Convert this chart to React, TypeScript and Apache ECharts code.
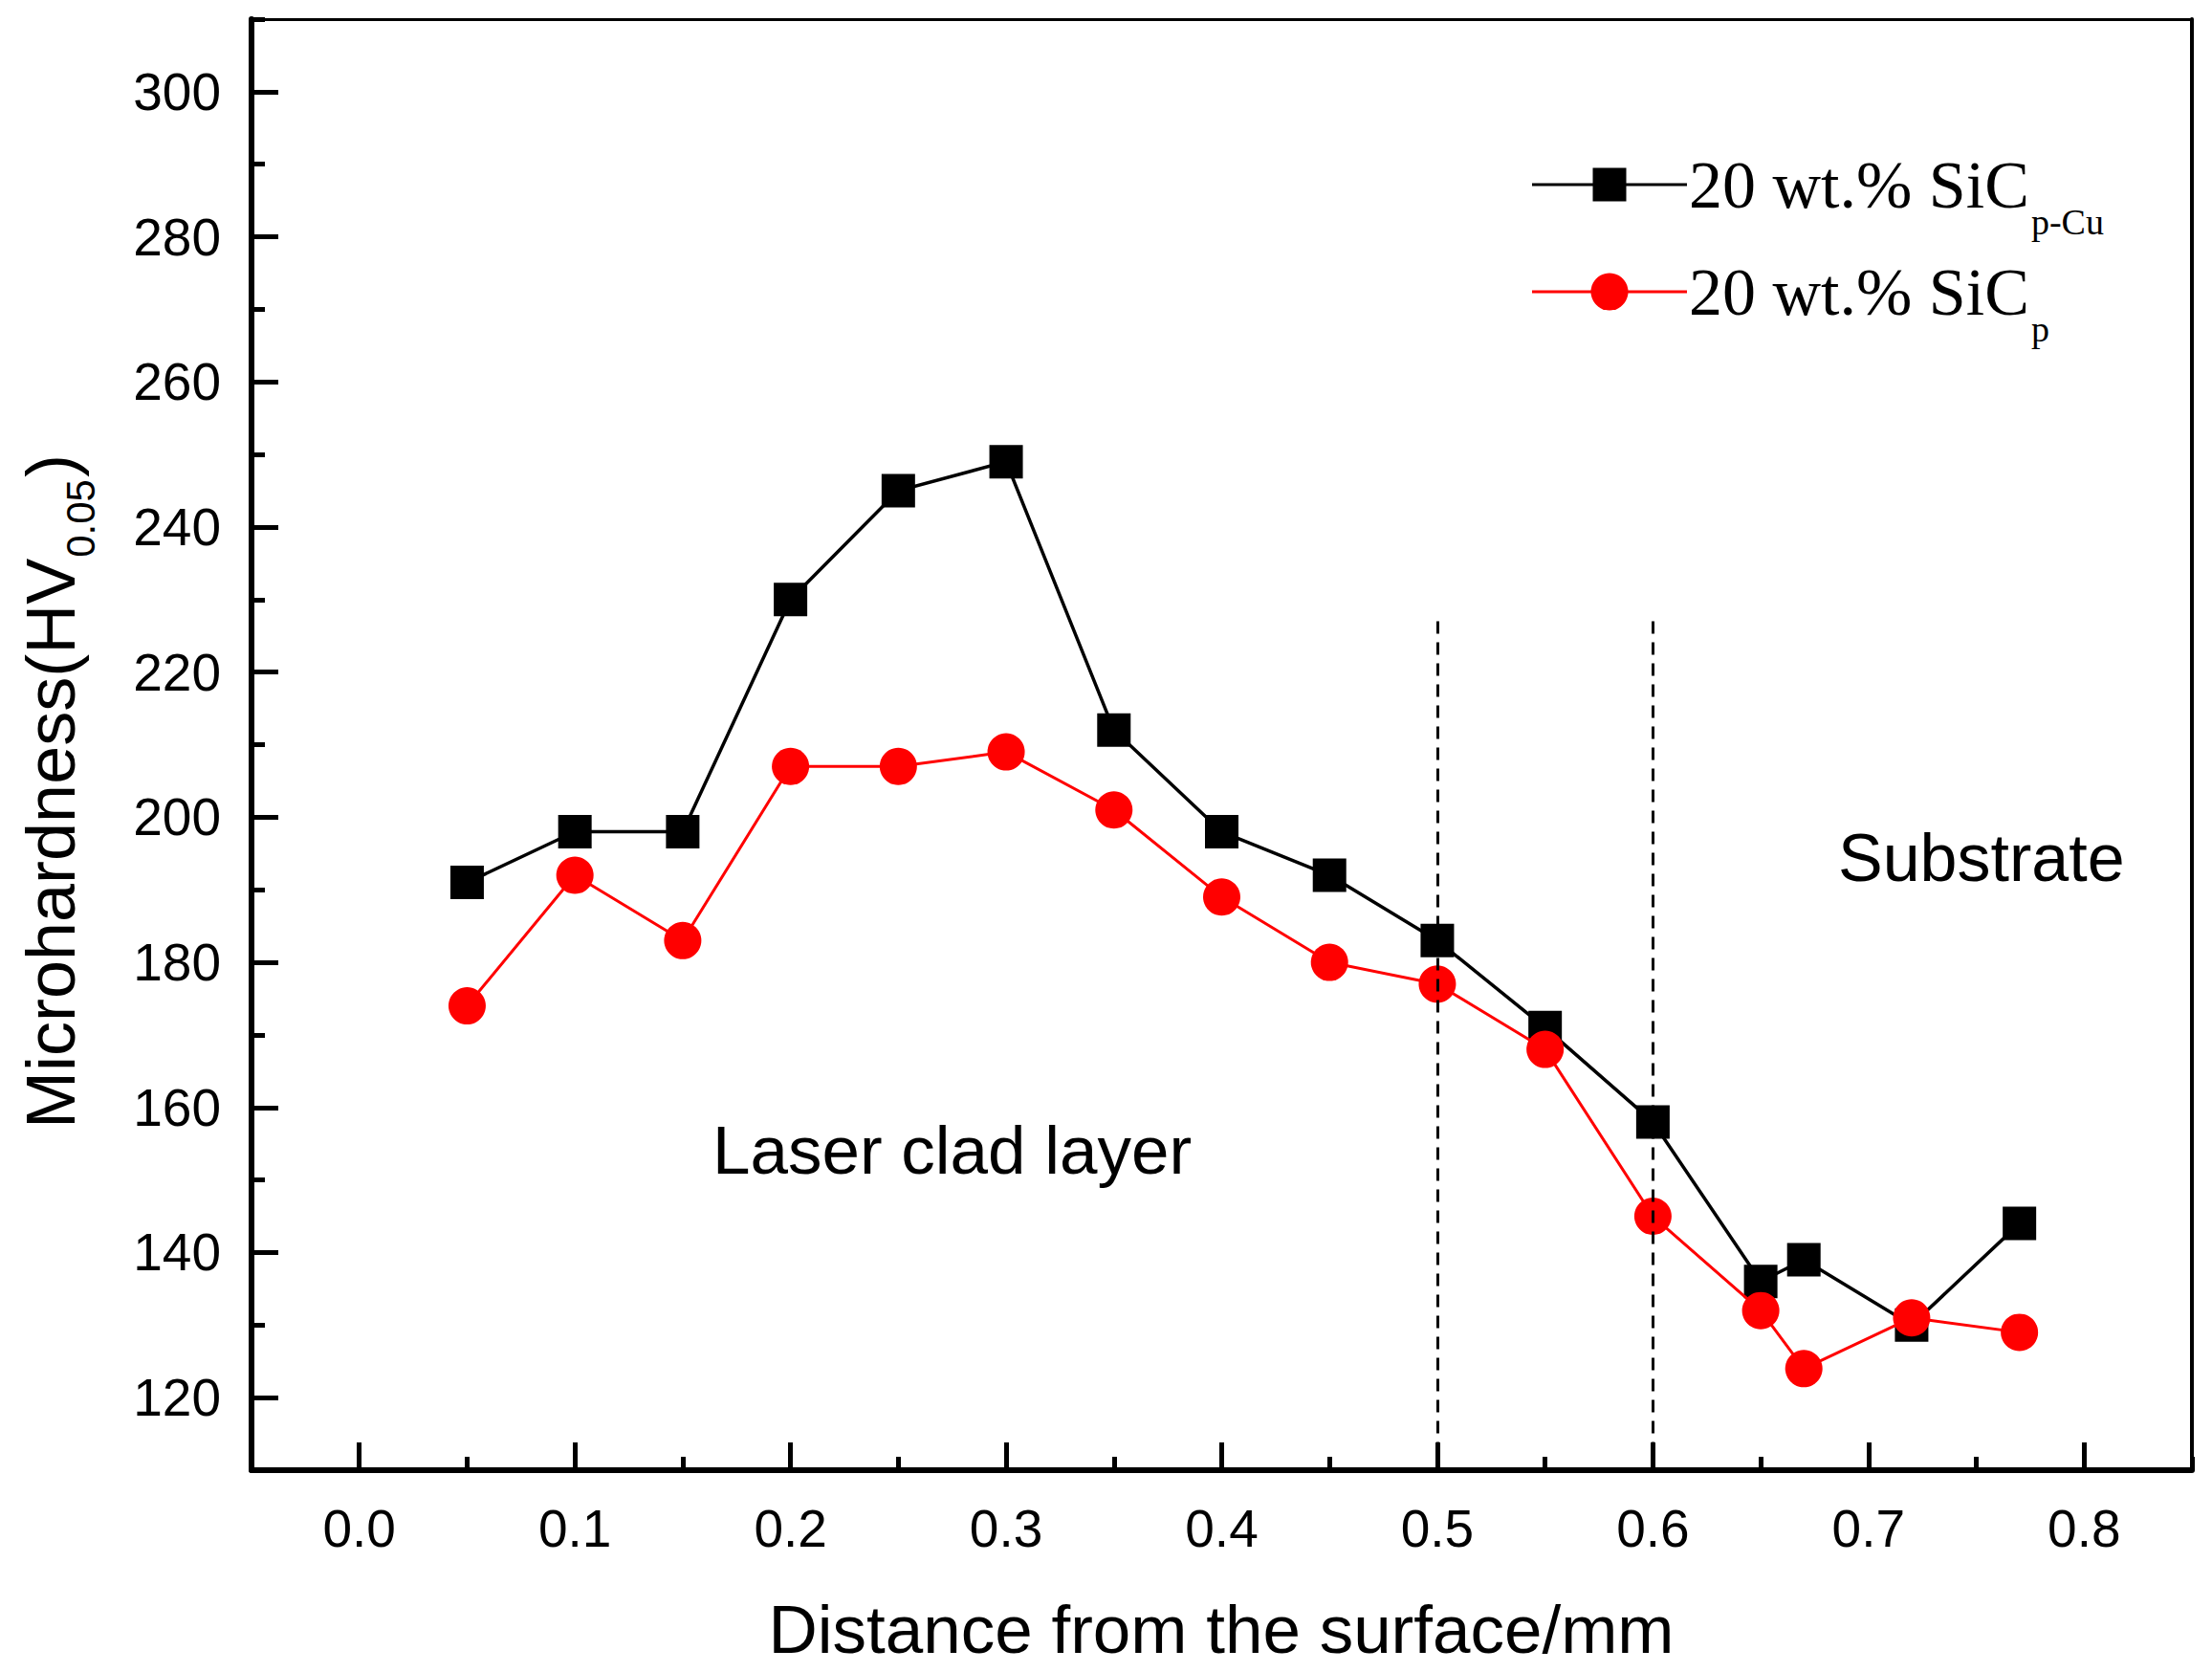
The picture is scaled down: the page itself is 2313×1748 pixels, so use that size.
import React, { useEffect, useRef } from "react";
import * as echarts from "echarts";

// ---- data ----
const distances = [0.05, 0.1, 0.15, 0.2, 0.25, 0.3, 0.35, 0.4, 0.45, 0.5, 0.55, 0.6, 0.65, 0.67, 0.72, 0.77];
const sicCuValues = [191, 198, 198, 230, 245, 249, 212, 198, 192, 183, 171, 158, 136, 139, 130, 144];
const sicValues = [174, 192, 183, 207, 207, 209, 201, 189, 180, 177, 168, 145, 132, 124, 131, 129];
const xMajorTicks = [0, 0.1, 0.2, 0.3, 0.4, 0.5, 0.6, 0.7, 0.8];
const xMinorTicks = [0.05, 0.15, 0.25, 0.35, 0.45, 0.55, 0.65, 0.75, 0.85];
const yMajorTicks = [120, 140, 160, 180, 200, 220, 240, 260, 280, 300];
const yMinorTicks = [110, 130, 150, 170, 190, 210, 230, 250, 270, 290, 310];
const boundaries = [0.5, 0.6];
const boundaryTop = 227;
const xRange = [-0.05, 0.85];
const yRange = [110, 310];
const seriesNames = ["20 wt.% SiC", "20 wt.% SiC"];
const seriesSubs = ["p-Cu", "p"];
const regionLabels = ["Laser clad layer", "Substrate"];

const SANS = "'Liberation Sans', Arial, sans-serif";
const SERIF = "'Liberation Serif', 'Times New Roman', serif";

function measure(text: string, font: string): number {
  const ctx = document.createElement("canvas").getContext("2d");
  if (!ctx) return text.length * 30;
  ctx.font = font;
  return ctx.measureText(text).width;
}

export default function App() {
  const ref = useRef<HTMLDivElement>(null);
  useEffect(() => {
    if (!ref.current) return;
    const chart = echarts.init(ref.current, undefined, { renderer: "svg" });

    const blackData = distances.map((d, i) => [d, sicCuValues[i]]);
    const redData = distances.map((d, i) => [d, sicValues[i]]);

    const axisBase = {
      type: "value" as const,
      min: xRange[0],
      max: xRange[1],
      splitLine: { show: false },
    };
    const yBase = {
      type: "value" as const,
      min: yRange[0],
      max: yRange[1],
      splitLine: { show: false },
    };

    // legend & text graphics
    const legFont = 70;
    const subFont = 38;
    const legX = 1766;
    const rowY = [193, 305];
    const baselines = [217, 329];
    const graphics: any[] = [];
    rowY.forEach((y, i) => {
      const color = i === 0 ? "#000" : "#ff0000";
      graphics.push({
        type: "line",
        shape: { x1: 1602, y1: y, x2: 1764, y2: y },
        style: { stroke: color, lineWidth: 3 },
      });
      if (i === 0) {
        graphics.push({
          type: "rect",
          shape: { x: 1683 - 17.5, y: y - 17.5, width: 35, height: 35 },
          style: { fill: "#000" },
        });
      } else {
        graphics.push({
          type: "circle",
          shape: { cx: 1683, cy: y, r: 19.5 },
          style: { fill: "#ff0000" },
        });
      }
      const w = measure(seriesNames[i], `${legFont}px 'Liberation Serif'`);
      graphics.push({
        type: "text",
        x: legX,
        y: baselines[i] - 0.34 * legFont,
        style: {
          text: seriesNames[i],
          font: `${legFont}px ${SERIF}`,
          fill: "#000",
          align: "left",
          verticalAlign: "middle",
        },
      });
      graphics.push({
        type: "text",
        x: legX + w + 2,
        y: baselines[i] + 28 - 0.34 * subFont,
        style: {
          text: seriesSubs[i],
          font: `${subFont}px ${SERIF}`,
          fill: "#000",
          align: "left",
          verticalAlign: "middle",
        },
      });
    });

    // y axis title (rotated)
    const tFont = 72;
    const tSub = 42;
    const mainT = "Microhardness(HV";
    const wMain = measure(mainT, `${tFont}px 'Liberation Sans'`);
    const wSub = measure("0.05", `${tSub}px 'Liberation Sans'`);
    graphics.push({
      type: "group",
      x: 77,
      y: 1180,
      rotation: Math.PI / 2,
      children: [
        {
          type: "text",
          x: 0,
          y: -0.34 * tFont,
          style: { text: mainT, font: `${tFont}px ${SANS}`, fill: "#000", align: "left", verticalAlign: "middle" },
        },
        {
          type: "text",
          x: wMain + 1,
          y: 22 - 0.34 * tSub,
          style: { text: "0.05", font: `${tSub}px ${SANS}`, fill: "#000", align: "left", verticalAlign: "middle" },
        },
        {
          type: "text",
          x: wMain + wSub + 3,
          y: -0.34 * tFont,
          style: { text: ")", font: `${tFont}px ${SANS}`, fill: "#000", align: "left", verticalAlign: "middle" },
        },
      ],
    });

    // x axis title
    graphics.push({
      type: "text",
      x: 1277,
      y: 1728 - 0.34 * 71,
      style: {
        text: "Distance from the surface/mm",
        font: `71px ${SANS}`,
        fill: "#000",
        align: "center",
        verticalAlign: "middle",
      },
    });

    // region annotations
    graphics.push({
      type: "text",
      x: 745,
      y: 1227 - 0.34 * 71,
      style: { text: regionLabels[0], font: `71px ${SANS}`, fill: "#000", align: "left", verticalAlign: "middle" },
    });
    graphics.push({
      type: "text",
      x: 1922,
      y: 921 - 0.34 * 70,
      style: { text: regionLabels[1], font: `70px ${SANS}`, fill: "#000", align: "left", verticalAlign: "middle" },
    });

    chart.setOption({
      animation: false,
      backgroundColor: "#fff",
      grid: { left: 263, top: 20, right: 21, bottom: 211, containLabel: false },
      xAxis: [
        {
          ...axisBase,
          position: "bottom",
          axisLine: { show: true, onZero: false, lineStyle: { color: "#000", width: 6 } },
          axisTick: { show: true, inside: true, length: 29, lineStyle: { color: "#000", width: 5 }, customValues: xMajorTicks },
          axisLabel: {
            show: true,
            customValues: xMajorTicks,
            formatter: (v: number) => v.toFixed(1),
            fontSize: 55,
            fontFamily: SANS,
            color: "#000",
            margin: 33,
          },
        },
        {
          ...axisBase,
          position: "bottom",
          axisLine: { show: false, onZero: false },
          axisTick: { show: true, inside: true, length: 14, lineStyle: { color: "#000", width: 5 }, customValues: xMinorTicks },
          axisLabel: { show: false },
        },
        {
          ...axisBase,
          position: "top",
          axisLine: { show: true, onZero: false, lineStyle: { color: "#000", width: 3 } },
          axisTick: { show: false },
          axisLabel: { show: false },
        },
      ],
      yAxis: [
        {
          ...yBase,
          position: "left",
          axisLine: { show: true, onZero: false, lineStyle: { color: "#000", width: 6 } },
          axisTick: { show: true, inside: true, length: 28, lineStyle: { color: "#000", width: 5 }, customValues: yMajorTicks },
          axisLabel: {
            show: true,
            customValues: yMajorTicks,
            fontSize: 55,
            fontFamily: SANS,
            color: "#000",
            margin: 32,
          },
        },
        {
          ...yBase,
          position: "left",
          axisLine: { show: false, onZero: false },
          axisTick: { show: true, inside: true, length: 14, lineStyle: { color: "#000", width: 5 }, customValues: yMinorTicks },
          axisLabel: { show: false },
        },
        {
          ...yBase,
          position: "right",
          axisLine: { show: true, onZero: false, lineStyle: { color: "#000", width: 4 } },
          axisTick: { show: false },
          axisLabel: { show: false },
        },
      ],
      series: [
        {
          name: "20 wt.% SiC p-Cu",
          type: "line",
          xAxisIndex: 0,
          yAxisIndex: 0,
          data: blackData,
          symbol: "rect",
          symbolSize: 35,
          itemStyle: { color: "#000" },
          lineStyle: { color: "#000", width: 3.5 },
          z: 3,
          markLine: {
            silent: true,
            symbol: "none",
            label: { show: false },
            lineStyle: { color: "#000", width: 3, type: [13, 9] },
            data: boundaries.map((b) => [{ coord: [b, boundaryTop] }, { coord: [b, yRange[0]] }]),
          },
        },
        {
          name: "20 wt.% SiC p",
          type: "line",
          xAxisIndex: 0,
          yAxisIndex: 0,
          data: redData,
          symbol: "circle",
          symbolSize: 39,
          itemStyle: { color: "#ff0000" },
          lineStyle: { color: "#ff0000", width: 3 },
          z: 4,
        },
      ],
      graphic: graphics,
    });
    return () => chart.dispose();
  }, []);
  return <div ref={ref} style={{ position: "absolute", left: 0, top: 0, width: 2313, height: 1748 }} />;
}
